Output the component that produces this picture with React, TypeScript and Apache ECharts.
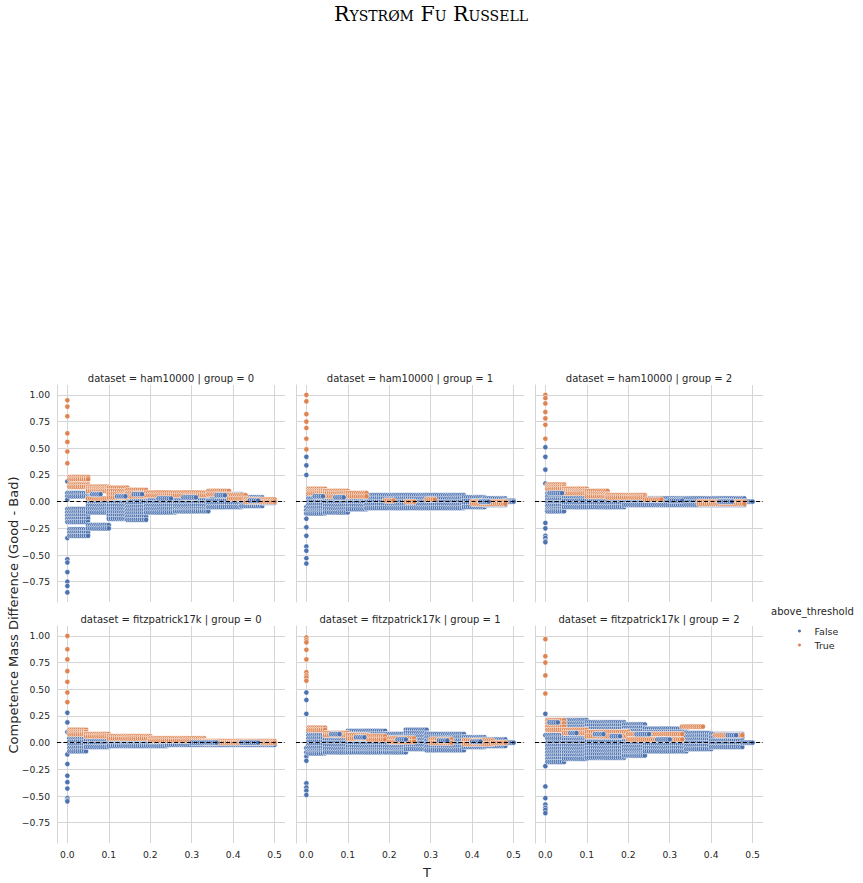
import React, { useEffect, useRef } from "react";
import * as echarts from "echarts";

// Palette (seaborn "deep")
const BLUE = "#4C72B0";
const ORANGE = "#DD8452";

const DATASETS = ["ham10000", "fitzpatrick17k"];
const GROUPS = [0, 1, 2];
const X_TICKS = [0, 0.1, 0.2, 0.3, 0.4, 0.5];
const Y_TICKS = [-0.75, -0.5, -0.25, 0, 0.25, 0.5, 0.75, 1.0];
const HUE_LABELS = ["False", "True"];

// Threshold sweep used for T > 0
const T_SWEEP: number[] = [];
for (let i = 1; i <= 100; i++) T_SWEEP.push(Math.round(i * 5) / 1000);

// [tFrom, tTo, competence-difference levels observed over that span]
type Run = [number, number, number[]];

// ---- ham10000, group 0 ----
const HAM_G0_FALSE_T0 = [0.19, 0.08, 0.05, 0.02, -0.07, -0.1, -0.13, -0.16, -0.19, -0.34, -0.54, -0.57, -0.66, -0.75, -0.79, -0.85];
const HAM_G0_TRUE_T0 = [0.95, 0.89, 0.8, 0.64, 0.56, 0.47, 0.36];
const HAM_G0_FALSE_RUNS: Run[] = [
  [0.005, 0.05, [0.08, 0.05, -0.07, -0.1, -0.13, -0.16, -0.19, -0.26, -0.29, -0.32]],
  [0.05, 0.065, [0.08, 0.05]],
  [0.05, 0.1, [-0.01, -0.04, -0.07, -0.1, -0.22, -0.25]],
  [0.1, 0.145, [0.02, -0.01, -0.04, -0.07, -0.1, -0.13, -0.16]],
  [0.145, 0.19, [0.04, 0.01, -0.02, -0.05, -0.08, -0.11, -0.14, -0.17]],
  [0.19, 0.26, [0.05, 0.02, -0.01, -0.04, -0.07, -0.1]],
  [0.26, 0.34, [0.05, 0.02, -0.01, -0.04, -0.07, -0.09]],
  [0.34, 0.42, [0.07, 0.04, 0.01, -0.02, -0.05]],
  [0.42, 0.47, [0.04, 0.01, -0.02, -0.04]],
  [0.47, 0.5, [0.01, -0.01]],
];
const HAM_G0_TRUE_RUNS: Run[] = [
  [0.005, 0.05, [0.23, 0.21, 0.16, 0.14]],
  [0.05, 0.1, [0.14, 0.12, 0.1, 0.03]],
  [0.1, 0.145, [0.13, 0.1, 0.07, 0.04]],
  [0.145, 0.19, [0.11, 0.08, 0.05]],
  [0.19, 0.34, [0.085, 0.06]],
  [0.34, 0.39, [0.1, 0.07]],
  [0.39, 0.43, [0.06, 0.03]],
  [0.43, 0.5, [0.02, 0.0]],
];
const HAM_G0_FALSE_MIX: Run[] = [
  [0.06, 0.08, [0.07]],
  [0.12, 0.14, [0.05]],
  [0.16, 0.18, [0.07]],
  [0.22, 0.25, [0.03]],
  [0.28, 0.31, [0.04]],
  [0.36, 0.38, [0.06]],
  [0.44, 0.46, [0.01]],
];

// ---- ham10000, group 1 ----
const HAM_G1_FALSE_T0 = [0.42, 0.34, 0.25, -0.05, -0.08, -0.11, -0.16, -0.24, -0.32, -0.42, -0.46, -0.53, -0.58];
const HAM_G1_TRUE_T0 = [1.0, 0.94, 0.82, 0.75, 0.69, 0.59, 0.49];
const HAM_G1_FALSE_RUNS: Run[] = [
  [0.005, 0.045, [0.06, 0.03, 0.0, -0.03, -0.06, -0.09, -0.11]],
  [0.045, 0.1, [0.05, 0.02, -0.01, -0.04, -0.07, -0.1]],
  [0.1, 0.145, [0.05, 0.02, -0.01, -0.04, -0.07]],
  [0.145, 0.38, [0.06, 0.03, 0.0, -0.03, -0.06]],
  [0.38, 0.43, [0.04, 0.01, -0.02, -0.05]],
  [0.43, 0.48, [0.03, 0.0, -0.03]],
  [0.48, 0.5, [0.01, 0.0]],
];
const HAM_G1_TRUE_RUNS: Run[] = [
  [0.005, 0.045, [0.12, 0.1, 0.08]],
  [0.045, 0.1, [0.1, 0.08, 0.05]],
  [0.1, 0.145, [0.08, 0.05]],
  [0.19, 0.21, [0.01]],
  [0.24, 0.26, [0.0]],
  [0.29, 0.31, [0.02]],
  [0.4, 0.48, [0.0, -0.02]],
];
const HAM_G1_FALSE_MIX: Run[] = [
  [0.02, 0.04, [0.05]],
  [0.07, 0.09, [0.04]],
  [0.42, 0.44, [0.0]],
];

// ---- ham10000, group 2 ----
const HAM_G2_FALSE_T0 = [0.51, 0.42, 0.3, 0.17, -0.2, -0.25, -0.32, -0.34, -0.37, -0.38];
const HAM_G2_TRUE_T0 = [1.0, 0.97, 0.92, 0.84, 0.78, 0.72, 0.59];
const HAM_G2_FALSE_RUNS: Run[] = [
  [0.005, 0.045, [0.08, 0.05, 0.02, -0.01, -0.04, -0.07, -0.09]],
  [0.045, 0.19, [0.04, 0.01, -0.02, -0.05]],
  [0.19, 0.48, [0.03, 0.0, -0.03]],
  [0.48, 0.5, [0.0]],
];
const HAM_G2_TRUE_RUNS: Run[] = [
  [0.005, 0.045, [0.16, 0.14, 0.12]],
  [0.045, 0.1, [0.12, 0.1, 0.08]],
  [0.1, 0.15, [0.1, 0.07, 0.05]],
  [0.15, 0.24, [0.06, 0.04]],
  [0.24, 0.28, [0.02]],
  [0.37, 0.48, [0.0, -0.02]],
];
const HAM_G2_FALSE_MIX: Run[] = [
  [0.01, 0.04, [0.08]],
  [0.3, 0.33, [0.01]],
  [0.42, 0.45, [0.0]],
];

// ---- fitzpatrick17k, group 0 ----
const FITZ_G0_FALSE_T0 = [0.28, 0.19, 0.1, -0.11, -0.2, -0.31, -0.37, -0.43, -0.52, -0.54, -0.55];
const FITZ_G0_TRUE_T0 = [1.0, 0.875, 0.78, 0.67, 0.57, 0.47, 0.38];
const FITZ_G0_FALSE_RUNS: Run[] = [
  [0.005, 0.045, [0.04, 0.01, -0.02, -0.05, -0.08]],
  [0.045, 0.1, [0.02, -0.01, -0.04]],
  [0.1, 0.24, [0.01, -0.01, -0.03]],
  [0.24, 0.5, [0.0, -0.02]],
];
const FITZ_G0_TRUE_RUNS: Run[] = [
  [0.005, 0.045, [0.12, 0.1, 0.08]],
  [0.045, 0.1, [0.08, 0.06]],
  [0.1, 0.2, [0.06, 0.04]],
  [0.2, 0.33, [0.04, 0.02]],
  [0.33, 0.5, [0.015, 0.0]],
];
const FITZ_G0_FALSE_MIX: Run[] = [
  [0.3, 0.36, [0.0]],
  [0.42, 0.46, [0.0]],
];

// ---- fitzpatrick17k, group 1 ----
const FITZ_G1_FALSE_T0 = [0.47, 0.4, 0.27, -0.05, -0.09, -0.13, -0.17, -0.38, -0.42, -0.45, -0.49];
const FITZ_G1_TRUE_T0 = [0.985, 0.96, 0.94, 0.87, 0.78, 0.66, 0.63, 0.61, 0.58];
const FITZ_G1_FALSE_RUNS: Run[] = [
  [0.005, 0.045, [0.1, 0.07, 0.04, 0.01, -0.02, -0.05, -0.08, -0.1]],
  [0.045, 0.1, [0.09, 0.06, 0.03, 0.0, -0.03, -0.06, -0.09]],
  [0.1, 0.19, [0.11, 0.08, 0.05, 0.02, -0.01, -0.04, -0.07, -0.09]],
  [0.19, 0.24, [0.08, 0.05, 0.02, -0.01, -0.04, -0.07, -0.09]],
  [0.24, 0.29, [0.12, 0.09, 0.06, 0.03, 0.0, -0.03, -0.06]],
  [0.29, 0.38, [0.08, 0.05, 0.02, -0.01, -0.04, -0.07]],
  [0.38, 0.43, [0.05, 0.02, -0.01, -0.04]],
  [0.43, 0.48, [0.03, 0.0, -0.03]],
  [0.48, 0.5, [0.0]],
];
const FITZ_G1_TRUE_RUNS: Run[] = [
  [0.005, 0.045, [0.14, 0.12]],
  [0.045, 0.1, [0.09, 0.07]],
  [0.1, 0.15, [0.07, 0.04]],
  [0.15, 0.19, [0.06, 0.03]],
  [0.2, 0.26, [0.04, 0.01]],
  [0.3, 0.35, [0.03, 0.0]],
  [0.38, 0.45, [0.02, -0.01]],
  [0.45, 0.48, [0.0]],
];
const FITZ_G1_FALSE_MIX: Run[] = [
  [0.06, 0.08, [0.08]],
  [0.12, 0.14, [0.05]],
  [0.22, 0.24, [0.03]],
  [0.32, 0.34, [0.02]],
  [0.4, 0.42, [0.01]],
];

// ---- fitzpatrick17k, group 2 ----
const FITZ_G2_FALSE_T0 = [0.27, 0.07, -0.22, -0.41, -0.52, -0.58, -0.61, -0.63, -0.66];
const FITZ_G2_TRUE_T0 = [0.97, 0.81, 0.75, 0.63, 0.46];
const FITZ_G2_FALSE_RUNS: Run[] = [
  [0.005, 0.045, [0.07, 0.04, 0.0, -0.03, -0.06, -0.09, -0.12, -0.15, -0.18]],
  [0.045, 0.1, [0.21, 0.18, 0.15, 0.12, 0.09, 0.06, 0.03, 0.0, -0.03, -0.06, -0.09, -0.12, -0.15]],
  [0.1, 0.19, [0.19, 0.16, 0.13, 0.1, 0.07, 0.04, 0.01, -0.02, -0.05, -0.08, -0.11, -0.14]],
  [0.19, 0.24, [0.17, 0.14, 0.11, 0.08, 0.05, 0.02, -0.01, -0.04, -0.07, -0.1, -0.12]],
  [0.24, 0.34, [0.13, 0.1, 0.07, 0.04, 0.01, -0.02, -0.05, -0.08]],
  [0.34, 0.4, [0.09, 0.06, 0.03, 0.0, -0.03, -0.06]],
  [0.4, 0.475, [0.08, 0.05, 0.02, -0.01, -0.04]],
  [0.475, 0.5, [0.0]],
];
const FITZ_G2_TRUE_RUNS: Run[] = [
  [0.005, 0.045, [0.21, 0.18, 0.15, 0.12]],
  [0.045, 0.1, [0.12, 0.09]],
  [0.1, 0.2, [0.1, 0.06]],
  [0.2, 0.33, [0.08, 0.03]],
  [0.33, 0.38, [0.15]],
  [0.41, 0.475, [0.07]],
];
const FITZ_G2_FALSE_MIX: Run[] = [
  [0.01, 0.03, [0.19]],
  [0.06, 0.075, [0.09]],
  [0.12, 0.14, [0.08]],
  [0.16, 0.18, [0.06]],
  [0.22, 0.25, [0.08]],
  [0.27, 0.3, [0.03]],
  [0.44, 0.46, [0.07]],
];

const PANELS = [
  { falseT0: HAM_G0_FALSE_T0, trueT0: HAM_G0_TRUE_T0, falseRuns: HAM_G0_FALSE_RUNS, trueRuns: HAM_G0_TRUE_RUNS, falseMix: HAM_G0_FALSE_MIX },
  { falseT0: HAM_G1_FALSE_T0, trueT0: HAM_G1_TRUE_T0, falseRuns: HAM_G1_FALSE_RUNS, trueRuns: HAM_G1_TRUE_RUNS, falseMix: HAM_G1_FALSE_MIX },
  { falseT0: HAM_G2_FALSE_T0, trueT0: HAM_G2_TRUE_T0, falseRuns: HAM_G2_FALSE_RUNS, trueRuns: HAM_G2_TRUE_RUNS, falseMix: HAM_G2_FALSE_MIX },
  { falseT0: FITZ_G0_FALSE_T0, trueT0: FITZ_G0_TRUE_T0, falseRuns: FITZ_G0_FALSE_RUNS, trueRuns: FITZ_G0_TRUE_RUNS, falseMix: FITZ_G0_FALSE_MIX },
  { falseT0: FITZ_G1_FALSE_T0, trueT0: FITZ_G1_TRUE_T0, falseRuns: FITZ_G1_FALSE_RUNS, trueRuns: FITZ_G1_TRUE_RUNS, falseMix: FITZ_G1_FALSE_MIX },
  { falseT0: FITZ_G2_FALSE_T0, trueT0: FITZ_G2_TRUE_T0, falseRuns: FITZ_G2_FALSE_RUNS, trueRuns: FITZ_G2_TRUE_RUNS, falseMix: FITZ_G2_FALSE_MIX },
];

function expand(t0: number[], runs: Run[]): number[][] {
  const pts: number[][] = t0.map((y) => [0, y]);
  for (const [from, to, levels] of runs) {
    for (const t of T_SWEEP) {
      if (t < from - 1e-9 || t > to + 1e-9) continue;
      for (const y of levels) pts.push([t, y]);
    }
  }
  return pts;
}

// Layout of the facet grid (pixels)
const COL_LEFT = [57, 296, 535];
const ROW_TOP = [385, 626];
const CELL_W = 228;
const CELL_H = 217;
const TEXT = "#262626";
const GRID_LINE = "#d5d5d5";
const FONT = "DejaVu Sans";

const fmtY = (v: number) => (v < 0 ? "\u2212" : "") + Math.abs(v).toFixed(2);

function buildOption() {
  const grid: any[] = [];
  const xAxis: any[] = [];
  const yAxis: any[] = [];
  const series: any[] = [];
  const graphic: any[] = [];

  DATASETS.forEach((ds, r) => {
    GROUPS.forEach((g, c) => {
      const i = r * 3 + c;
      const p = PANELS[i];
      grid.push({ left: COL_LEFT[c], top: ROW_TOP[r], width: CELL_W, height: CELL_H, containLabel: false });
      xAxis.push({
        type: "value",
        gridIndex: i,
        min: -0.025,
        max: 0.525,
        axisLine: { show: true, lineStyle: { color: GRID_LINE, width: 1 } },
        axisTick: { show: false, customValues: X_TICKS },
        axisLabel: {
          show: r === 1,
          customValues: X_TICKS,
          formatter: (v: number) => v.toFixed(1),
          color: TEXT,
          fontSize: 9.2,
          fontFamily: FONT,
          margin: 7,
        },
        splitLine: { show: true, lineStyle: { color: GRID_LINE, width: 1 } },
      });
      yAxis.push({
        type: "value",
        gridIndex: i,
        min: -0.94,
        max: 1.093,
        axisLine: { show: true, onZero: false, lineStyle: { color: GRID_LINE, width: 1 } },
        axisTick: { show: false, customValues: Y_TICKS },
        axisLabel: {
          show: c === 0,
          customValues: Y_TICKS,
          formatter: fmtY,
          color: TEXT,
          fontSize: 9.2,
          fontFamily: FONT,
          margin: 7,
        },
        splitLine: { show: true, lineStyle: { color: GRID_LINE, width: 1 } },
      });
      const common = {
        type: "scatter",
        xAxisIndex: i,
        yAxisIndex: i,
        symbol: "circle",
        symbolSize: 5.3,
        silent: true,
        animation: false,
      };
      series.push({
        ...common,
        name: HUE_LABELS[0],
        z: 2,
        itemStyle: { color: BLUE, borderColor: "#ffffff", borderWidth: 0.6, opacity: 1 },
        data: expand(p.falseT0, p.falseRuns),
      });
      series.push({
        ...common,
        name: HUE_LABELS[1],
        z: 3,
        itemStyle: { color: ORANGE, borderColor: "#ffffff", borderWidth: 0.6, opacity: 1 },
        data: expand(p.trueT0, p.trueRuns),
      });
      series.push({
        ...common,
        name: HUE_LABELS[0],
        z: 4,
        itemStyle: { color: BLUE, borderColor: "#ffffff", borderWidth: 0.6, opacity: 1 },
        data: expand([], p.falseMix),
        markLine: {
          silent: true,
          symbol: ["none", "none"],
          label: { show: false },
          lineStyle: { color: "#000000", type: [4, 2.5], width: 1.1 },
          data: [{ yAxis: 0 }],
          animation: false,
          z: 10,
        },
      });
      graphic.push({
        type: "text",
        x: COL_LEFT[c] + CELL_W / 2,
        y: ROW_TOP[r] - 7,
        style: {
          text: `dataset = ${ds} | group = ${g}`,
          textAlign: "center",
          textVerticalAlign: "middle",
          fontSize: 10,
          fontFamily: FONT,
          fill: TEXT,
        },
      });
    });
  });

  // Figure title (small caps serif)
  graphic.push({
    type: "text",
    x: 431,
    y: 14,
    style: {
      text: "Rystrøm Fu Russell",
      font: "small-caps 20.5px DejaVu Serif",
      textAlign: "center",
      textVerticalAlign: "middle",
      fill: "#000000",
    },
  });
  // Shared axis labels
  graphic.push({
    type: "text",
    x: 13,
    y: 615,
    rotation: Math.PI / 2,
    style: {
      text: "Competence Mass Difference (Good - Bad)",
      textAlign: "center",
      textVerticalAlign: "middle",
      fontSize: 13,
      fontFamily: FONT,
      fill: TEXT,
    },
  });
  graphic.push({
    type: "text",
    x: 427,
    y: 872,
    style: {
      text: "T",
      textAlign: "center",
      textVerticalAlign: "middle",
      fontSize: 13,
      fontFamily: FONT,
      fill: TEXT,
    },
  });
  // Legend title
  graphic.push({
    type: "text",
    x: 771,
    y: 611,
    style: {
      text: "above_threshold",
      textAlign: "left",
      textVerticalAlign: "middle",
      fontSize: 10,
      fontFamily: FONT,
      fill: TEXT,
    },
  });

  return {
    animation: false,
    backgroundColor: "#ffffff",
    grid,
    xAxis,
    yAxis,
    series,
    graphic,
    legend: {
      data: HUE_LABELS,
      orient: "vertical",
      left: 791,
      top: 620,
      icon: "circle",
      itemWidth: 20,
      itemHeight: 5,
      itemGap: 2,
      selectedMode: false,
      textStyle: { fontSize: 9.5, fontFamily: FONT, color: TEXT, lineHeight: 12 },
    },
  };
}

export default function App() {
  const ref = useRef<HTMLDivElement>(null);
  useEffect(() => {
    if (!ref.current) return;
    const chart = echarts.init(ref.current, undefined, { renderer: "svg" });
    chart.setOption(buildOption() as any);
    return () => chart.dispose();
  }, []);
  return (
    <div
      ref={ref}
      style={{ position: "fixed", left: 0, top: 0, width: 863, height: 883, background: "#fff" }}
    />
  );
}
